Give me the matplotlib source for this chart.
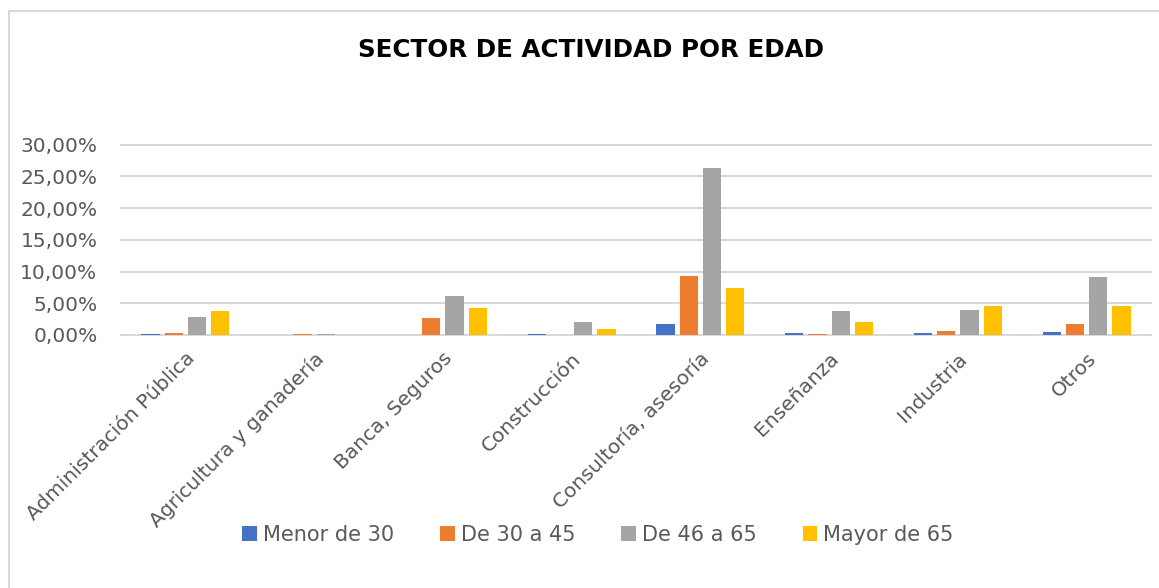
import numpy as np
import matplotlib.pyplot as plt
from matplotlib.patches import Rectangle
from matplotlib.ticker import FuncFormatter

plt.rcParams['font.family'] = ['DejaVu Sans']

sectores = ["Administración Pública", "Agricultura y ganadería", "Banca, Seguros",
            "Construcción", "Consultoría, asesoría", "Enseñanza", "Industria", "Otros"]
series = ["Menor de 30", "De 30 a 45", "De 46 a 65", "Mayor de 65"]

menor_30 = [0.10, 0.00, 0.00, 0.10, 1.70, 0.30, 0.30, 0.45]
de_30_45 = [0.35, 0.10, 2.70, 0.05, 9.25, 0.10, 0.60, 1.70]
de_46_65 = [2.80, 0.10, 6.10, 2.00, 26.35, 3.85, 3.95, 9.10]
mayor_65 = [3.80, 0.00, 4.20, 0.95, 7.40, 2.10, 4.60, 4.50]

colores = ["#4472C4", "#ED7D31", "#A5A5A5", "#FFC000"]
gris_texto = "#595959"

fig = plt.figure(figsize=(11.59, 5.88), dpi=100)
# borde del gráfico
fig.patches.append(Rectangle((9 / 1159, -0.1), 1.2, 1 - 11 / 588 + 0.1,
                             transform=fig.transFigure, fill=False,
                             edgecolor="#d9d9d9", linewidth=1.5))

ax = fig.add_axes([121 / 1159, 253 / 588, 1030 / 1159, 190.3 / 588])

x = np.arange(len(sectores))
ancho = 0.142
paso = 0.181
datos = [menor_30, de_30_45, de_46_65, mayor_65]
for i, (vals, nombre, c) in enumerate(zip(datos, series, colores)):
    ax.bar(x + (i - 1.5) * paso, np.array(vals) / 100, width=ancho,
           color=c, label=nombre, zorder=3)

ax.set_xlim(-0.5, len(sectores) - 0.5)
ax.set_ylim(0, 0.30)
ax.set_yticks(np.arange(0, 0.301, 0.05))
ax.yaxis.set_major_formatter(FuncFormatter(lambda v, p: f"{v * 100:.2f}%".replace(".", ",")))
ax.grid(axis="y", color="#d9d9d9", linewidth=1.5, zorder=0)
for gl in ax.get_ygridlines():
    gl.set_clip_on(False)
for s in ax.spines.values():
    s.set_visible(False)
ax.tick_params(axis="both", length=0, labelcolor=gris_texto)
ax.tick_params(axis="y", pad=17, labelsize=14.5)
ax.set_xticks(x)
ax.set_xticklabels(sectores, rotation=45, ha="right", rotation_mode="anchor")
ax.tick_params(axis="x", pad=10, labelsize=14.5)

fig.text(0.510, 0.915, "SECTOR DE ACTIVIDAD POR EDAD", ha="center", va="center",
         fontsize=17.7, fontweight="bold", color="black")

fig.legend(loc="center", bbox_to_anchor=(0.516, 0.09), ncol=4, frameon=False,
           fontsize=15, labelcolor=gris_texto, handlelength=0.7, handleheight=0.7,
           handletextpad=0.3, columnspacing=2.2)

fig.savefig("out.png", dpi=100)
